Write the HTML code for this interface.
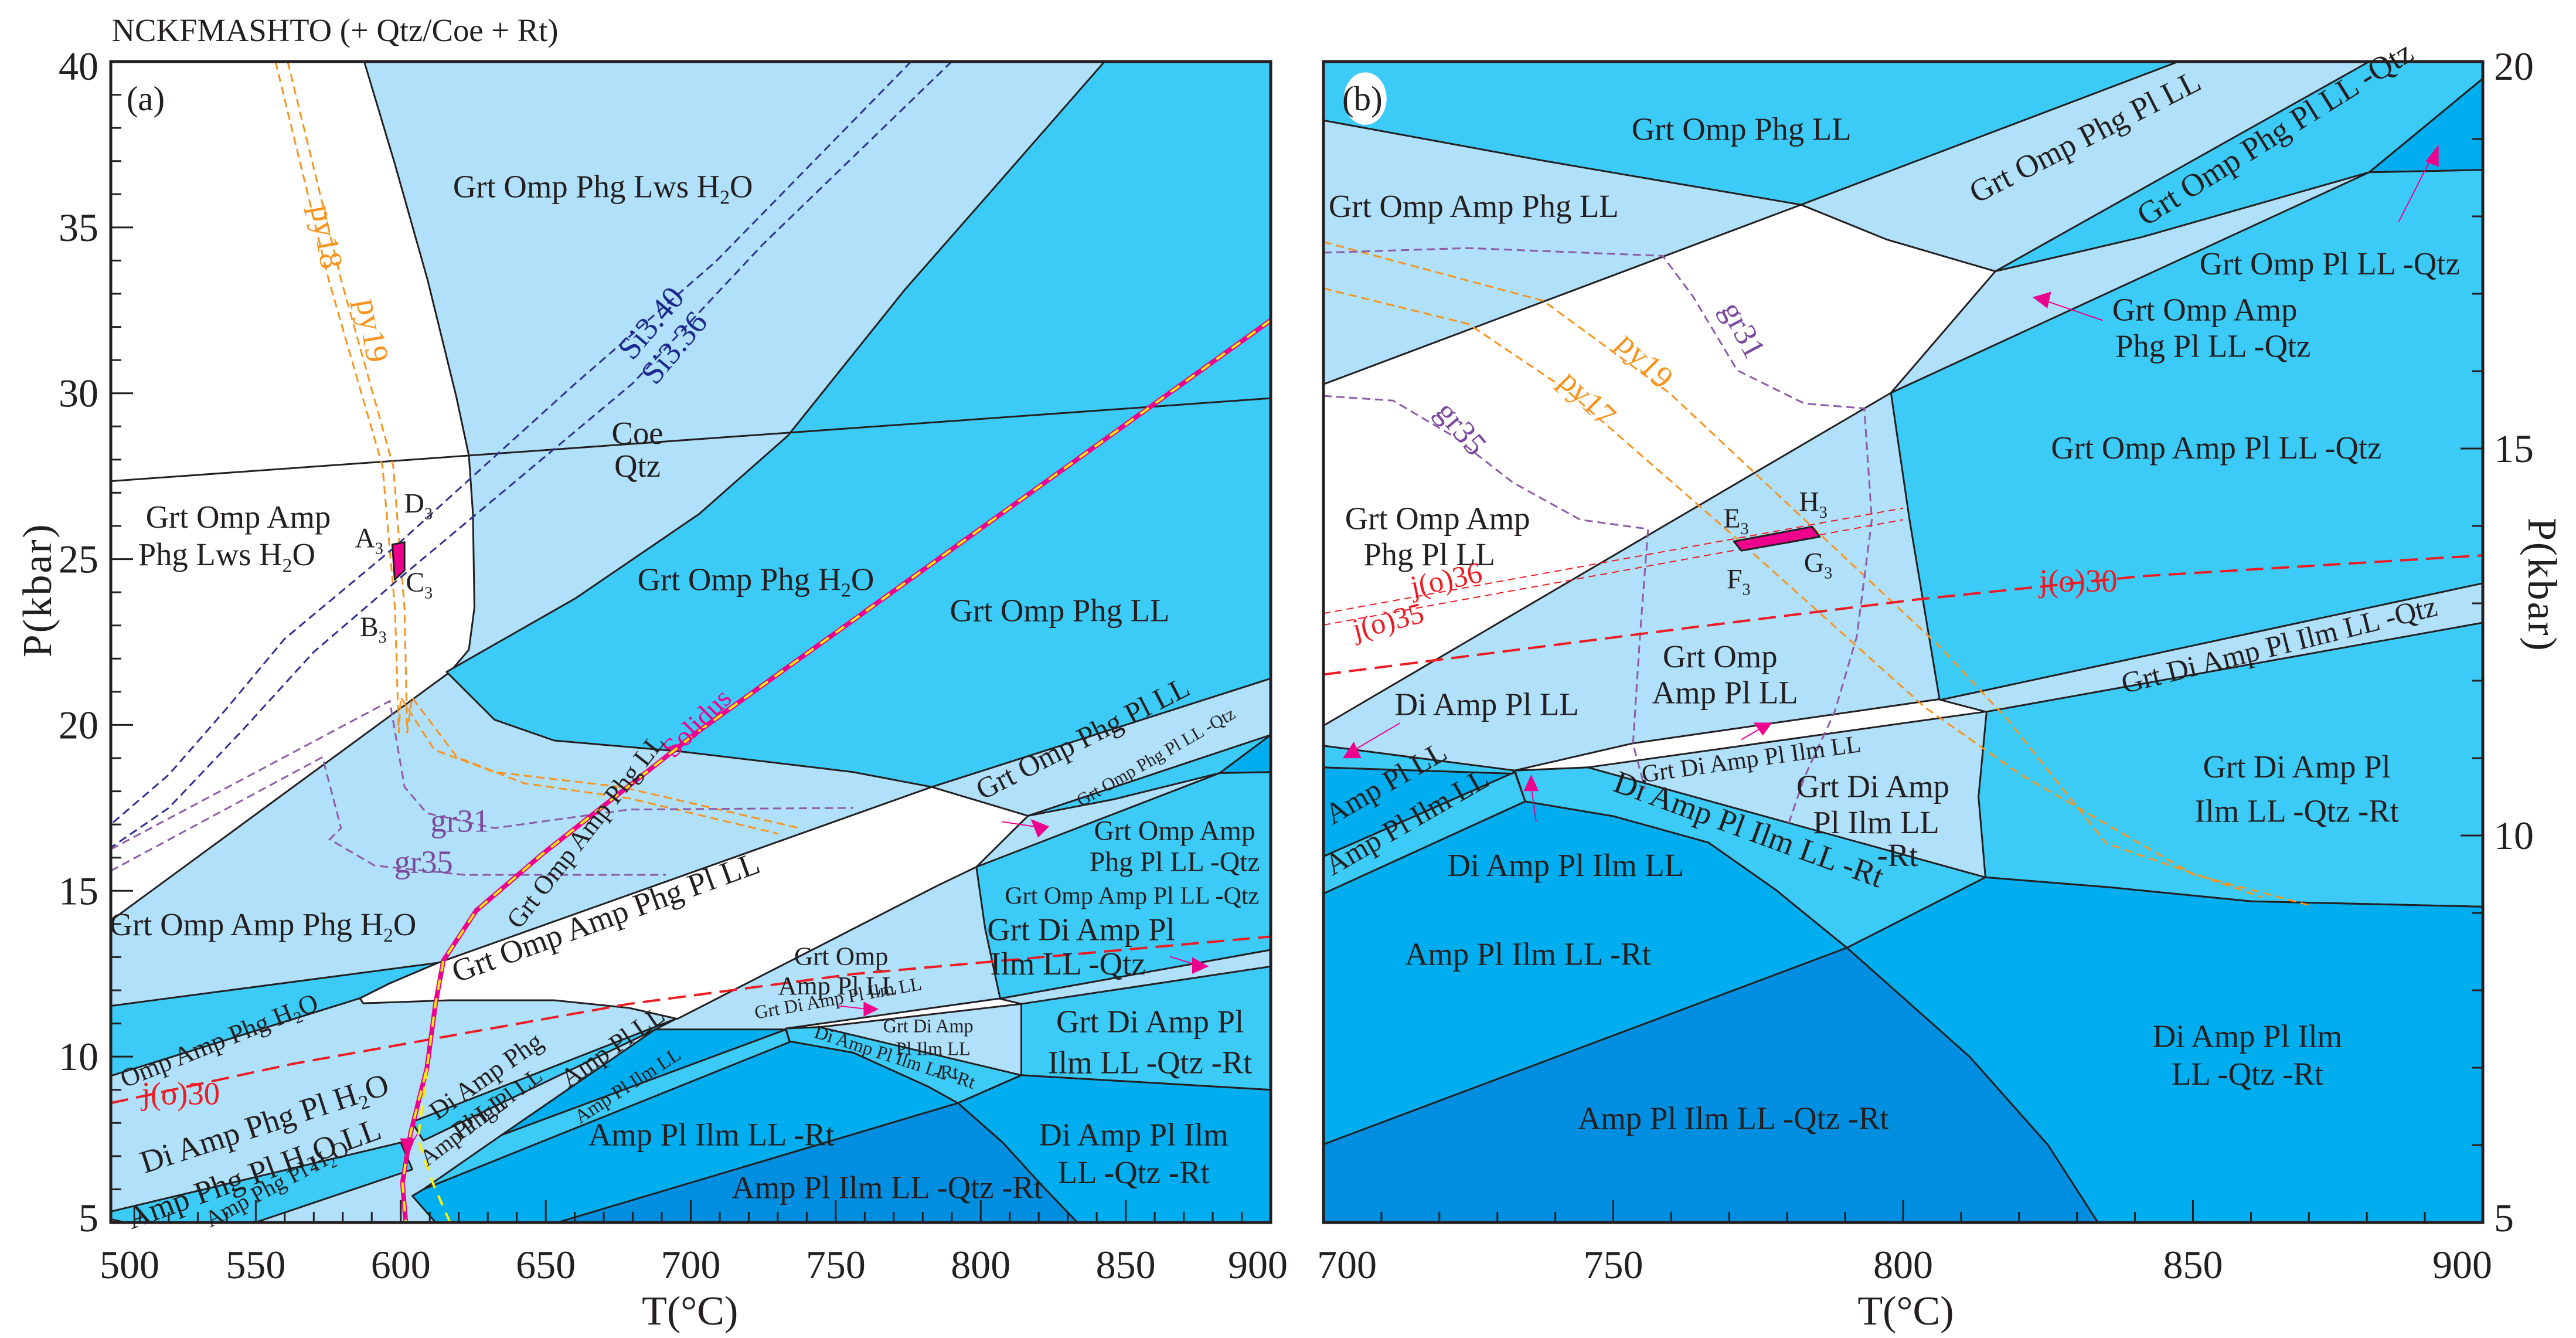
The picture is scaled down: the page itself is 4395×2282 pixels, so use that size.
<!DOCTYPE html>
<html><head><meta charset="utf-8"><title>Phase diagram</title>
<style>
html,body{margin:0;padding:0;background:#fff;}
svg{display:block;}
text{font-family:"Liberation Serif",serif;fill:#231f20;}
</style></head>
<body>
<svg id="chart" xmlns="http://www.w3.org/2000/svg" width="4395" height="2282" viewBox="0 0 4395 2282">
<defs>
<clipPath id="clipA"><rect x="189" y="105" width="1979" height="1980"/></clipPath>
<clipPath id="clipB"><rect x="2258" y="105" width="1978" height="1980"/></clipPath>
</defs>
<g id="panelA" clip-path="url(#clipA)"></g>
<g id="panelB" clip-path="url(#clipB)"></g>
<g id="axes"></g>

<g transform="scale(2.803)" font-size="19.5">
<text x="68" y="25" font-size="19.5">NCKFMASHTO (+ Qtz/Coe + Rt)</text>
<text x="77" y="67" font-size="21">(a)</text>
<ellipse cx="831" cy="60" rx="13" ry="16" fill="#fff"/>
<text x="817" y="67" font-size="21">(b)</text>

<text x="420" y="806" font-size="25" text-anchor="middle">T(°C)</text>
<text x="1160" y="806" font-size="25" text-anchor="middle">T(°C)</text>
<text transform="translate(31,400) rotate(-90)" font-size="25" letter-spacing="1">P(kbar)</text>
<text transform="translate(1539,315) rotate(90)" font-size="25" letter-spacing="1">P(kbar)</text>

<!-- panel a field labels -->
<text x="367" y="120" text-anchor="middle">Grt Omp Phg Lws H<tspan font-size="12" dy="4">2</tspan><tspan dy="-4">O</tspan></text>
<text transform="translate(385,220) rotate(-50)" style="fill:#1b2a8c">Si3.40</text>
<text transform="translate(399,235) rotate(-50)" style="fill:#1b2a8c">Si3.36</text>
<text transform="translate(189,126) rotate(80)" style="fill:#f7941d">py18</text>
<text transform="translate(217,183) rotate(80)" style="fill:#f7941d">py19</text>
<text x="388" y="270" text-anchor="middle">Coe</text>
<text x="388" y="290" text-anchor="middle">Qtz</text>
<text x="145" y="321" text-anchor="middle">Grt Omp Amp</text>
<text x="138" y="344" text-anchor="middle">Phg Lws H<tspan font-size="12" dy="4">2</tspan><tspan dy="-4">O</tspan></text>
<text x="216" y="333" font-size="17">A<tspan font-size="10" dy="4">3</tspan></text>
<text x="246" y="312" font-size="17">D<tspan font-size="10" dy="4">3</tspan></text>
<text x="247" y="360" font-size="17">C<tspan font-size="10" dy="4">3</tspan></text>
<text x="219" y="387" font-size="17">B<tspan font-size="10" dy="4">3</tspan></text>
<text x="460" y="359" text-anchor="middle">Grt Omp Phg H<tspan font-size="12" dy="4">2</tspan><tspan dy="-4">O</tspan></text>
<text x="645" y="378" text-anchor="middle">Grt Omp Phg LL</text>
<text transform="translate(410,462) rotate(-45)" style="fill:#ec008c" font-size="17">Solidus</text>
<text transform="translate(316,566) rotate(-52)" font-size="16">Grt Omp Amp Phg LL</text>
<text transform="translate(598,487) rotate(-27)" font-size="18">Grt Omp Phg Pl LL</text>
<text transform="translate(658,491) rotate(-30)" font-size="11">Grt Omp Phg Pl LL -Qtz</text>
<text x="715" y="511" font-size="17" text-anchor="middle">Grt Omp Amp</text>
<text x="715" y="530" font-size="17" text-anchor="middle">Phg Pl LL -Qtz</text>
<text x="689" y="550" font-size="15" text-anchor="middle">Grt Omp Amp Pl LL -Qtz</text>
<text x="658" y="572" text-anchor="middle">Grt Di Amp Pl</text>
<text x="650" y="593" text-anchor="middle">Ilm LL -Qtz</text>
<text x="160" y="569" text-anchor="middle">Grt Omp Amp Phg H<tspan font-size="12" dy="4">2</tspan><tspan dy="-4">O</tspan></text>
<text x="262" y="506" style="fill:#7b4a9e">gr31</text>
<text x="240" y="531" style="fill:#7b4a9e">gr35</text>
<text transform="translate(278,598) rotate(-20)">Grt Omp Amp Phg Pl LL</text>
<text transform="translate(76,662) rotate(-22)" font-size="16">Omp Amp Phg H<tspan font-size="10" dy="3">2</tspan><tspan dy="-3">O</tspan></text>
<text x="110" y="672" text-anchor="middle" style="fill:#ed1c24">j(o)30</text>
<text transform="translate(88,714) rotate(-18)">Di Amp Phg Pl H<tspan font-size="12" dy="4">2</tspan><tspan dy="-4">O</tspan></text>
<text transform="translate(80,748) rotate(-20)">Amp Phg Pl H<tspan font-size="12" dy="4">2</tspan><tspan dy="-4">O LL</tspan></text>
<text transform="translate(128,747) rotate(-28)" font-size="14">Amp Phg Pl H<tspan font-size="9" dy="3">2</tspan><tspan dy="-3">O</tspan></text>
<text transform="translate(266,682) rotate(-35)" font-size="16">Di Amp Phg</text>
<text transform="translate(280,694) rotate(-35)" font-size="16">Pl LL</text>
<text transform="translate(260,710) rotate(-37)" font-size="14">Amp Phg Pl LL</text>
<text transform="translate(346,662) rotate(-35)" font-size="16">Amp Pl LL</text>
<text transform="translate(353,684) rotate(-33)" font-size="12">Amp Pl Ilm LL</text>
<text x="512" y="587" font-size="16" text-anchor="middle">Grt Omp</text>
<text x="510" y="605" font-size="16" text-anchor="middle">Amp Pl LL</text>
<text transform="translate(460,620) rotate(-10)" font-size="11.5">Grt Di Amp Pl Ilm LL</text>
<text x="565" y="628" font-size="11.5" text-anchor="middle">Grt Di Amp</text>
<text x="568" y="642" font-size="11.5" text-anchor="middle">Pl Ilm LL</text>
<text x="576" y="656" font-size="11.5" text-anchor="middle">-Rt</text>
<text transform="translate(495,631) rotate(18)" font-size="11.5">Di Amp Pl Ilm LL -Rt</text>
<text x="700" y="628" text-anchor="middle">Grt Di Amp Pl</text>
<text x="700" y="653" text-anchor="middle">Ilm LL -Qtz -Rt</text>
<text x="433" y="697" text-anchor="middle">Amp Pl Ilm LL -Rt</text>
<text x="690" y="697" text-anchor="middle">Di Amp Pl Ilm</text>
<text x="690" y="720" text-anchor="middle">LL -Qtz -Rt</text>
<text x="540" y="729" text-anchor="middle">Amp Pl Ilm LL -Qtz -Rt</text>

<!-- panel b field labels -->
<text x="1060" y="85" text-anchor="middle">Grt Omp Phg LL</text>
<text x="897" y="132" text-anchor="middle">Grt Omp Amp Phg LL</text>
<text transform="translate(1203,124) rotate(-27)">Grt Omp Phg Pl LL</text>
<text transform="translate(1306,138) rotate(-32)">Grt Omp Phg Pl LL -Qtz</text>
<text x="1418" y="167" text-anchor="middle">Grt Omp Pl LL -Qtz</text>
<text x="1342" y="195" text-anchor="middle">Grt Omp Amp</text>
<text x="1347" y="217" text-anchor="middle">Phg Pl LL -Qtz</text>
<text transform="translate(1047,188) rotate(62)" style="fill:#7b4a9e">gr31</text>
<text transform="translate(983,210) rotate(45)" style="fill:#f7941d">py19</text>
<text transform="translate(948,233) rotate(45)" style="fill:#f7941d">py17</text>
<text transform="translate(873,251) rotate(50)" style="fill:#7b4a9e">gr35</text>
<text x="1349" y="279" text-anchor="middle">Grt Omp Amp Pl LL -Qtz</text>
<text x="875" y="322" text-anchor="middle">Grt Omp Amp</text>
<text x="870" y="344" text-anchor="middle">Phg Pl LL</text>
<text x="1049" y="321" font-size="17">E<tspan font-size="10" dy="4">3</tspan></text>
<text x="1095" y="311" font-size="17">H<tspan font-size="10" dy="4">3</tspan></text>
<text x="1051" y="358" font-size="17">F<tspan font-size="10" dy="4">3</tspan></text>
<text x="1098" y="348" font-size="17">G<tspan font-size="10" dy="4">3</tspan></text>
<text transform="translate(860,363) rotate(-12)" style="fill:#ed1c24" font-size="18">j(o)36</text>
<text transform="translate(825,389) rotate(-14)" style="fill:#ed1c24" font-size="18">j(o)35</text>
<text x="1265" y="360" text-anchor="middle" style="fill:#ed1c24">j(o)30</text>
<text transform="translate(1293,422) rotate(-14)" font-size="18">Grt Di Amp Pl Ilm LL -Qtz</text>
<text x="1047" y="406" text-anchor="middle">Grt Omp</text>
<text x="1050" y="428" text-anchor="middle">Amp Pl LL</text>
<text x="905" y="435" text-anchor="middle">Di Amp Pl LL</text>
<text transform="translate(1000,476) rotate(-8)" font-size="15">Grt Di Amp Pl Ilm LL</text>
<text x="1140" y="485" text-anchor="middle">Grt Di Amp</text>
<text x="1142" y="507" text-anchor="middle">Pl Ilm LL</text>
<text x="1155" y="527" text-anchor="middle">-Rt</text>
<text x="1398" y="473" text-anchor="middle">Grt Di Amp Pl</text>
<text x="1398" y="500" text-anchor="middle">Ilm LL -Qtz -Rt</text>
<text transform="translate(811,502) rotate(-30)" font-size="18">Amp Pl LL</text>
<text transform="translate(811,533) rotate(-30)" font-size="18">Amp Pl Ilm LL</text>
<text x="953" y="533" text-anchor="middle">Di Amp Pl Ilm LL</text>
<text transform="translate(981,481) rotate(20)">Di Amp Pl Ilm LL -Rt</text>
<text x="930" y="587" text-anchor="middle">Amp Pl Ilm LL -Rt</text>
<text x="1368" y="637" text-anchor="middle">Di Amp Pl Ilm</text>
<text x="1368" y="660" text-anchor="middle">LL -Qtz -Rt</text>
<text x="1055" y="687" text-anchor="middle">Amp Pl Ilm LL -Qtz -Rt</text>

<!-- pink annotation arrows -->
<g stroke="#ec008c" stroke-width="0.7" fill="#ec008c">
<line x1="254" y1="690" x2="248" y2="700"/>
<polygon points="244,693 252,693 248,704"/>
<line x1="510" y1="612" x2="528" y2="614"/>
<polygon points="526,610 534,614 526,618"/>
<line x1="610" y1="500" x2="630" y2="503"/>
<polygon points="628,499 638,503 632,509"/>
<line x1="712" y1="582" x2="728" y2="587"/>
<polygon points="726,583 735,588 726,592"/>
<line x1="852" y1="440" x2="825" y2="456"/>
<polygon points="818,461 824,452 828,461"/>
<line x1="935" y1="500" x2="932" y2="478"/>
<polygon points="928,481 932,472 936,481"/>
<line x1="1060" y1="450" x2="1072" y2="443"/>
<polygon points="1068,440 1078,440 1073,447"/>
<line x1="1280" y1="195" x2="1245" y2="183"/>
<polygon points="1238,181 1248,178 1246,187"/>
<line x1="1460" y1="135" x2="1480" y2="96"/>
<polygon points="1477,98 1484,89 1484,101"/>
</g>
</g>
</svg>

<script>
// ---------- data (T in °C, P in kbar) ----------
const aTicksT = [500,550,600,650,700,750,800,850,900];
const aTicksP = [5,10,15,20,25,30,35,40];
const bTicksT = [700,750,800,850,900];
const bTicksP = [5,10,15,20];

// Panel (a) fields
const aWhiteUpperT = [500,587.4,597.9,609.3,619.2,623.5,624.9,625.4,623.5,617,500];
const aWhiteUpperP = [40,40,36.93,33.4,29.88,28.12,26.36,23.54,22.27,21.6,14.1];
const aMidBigT = [842.7,900,900,783.1,756,696.7,652.9,632.3,615.8,632,660.3,702.9,733.5,773.8,802.1];
const aMidBigP = [40,40,21.4,18.13,18.58,19.2,19.53,20.16,21.6,22.41,23.82,26.36,28.72,33.12,35.94];
const aQtzWedgeT = [816.3,900,900,882.4,846];
const aQtzWedgeP = [17.26,19.7,18.58,18.55,17.76];
const aBlueTriT = [882.4,900,900];
const aBlueTriP = [18.55,19.7,18.58];
const aMidRightT = [798.5,882.4,900,900,806.7,801.5];
const aMidRightP = [15.72,18.55,18.58,13.22,11.75,13.87];
const aMidRtT = [814,900,900,814];
const aMidRtP = [11.59,12.72,9.0,9.44];
const aBlueRightT = [814,900,900,833.3,820.5,807.6,792.1];
const aBlueRightP = [9.44,9.0,5,5,6.17,7.41,8.6];
const aWhiteWedgeT = [732.8,806.3,814,744.4];
const aWhiteWedgeP = [10.85,11.75,11.59,10.89];
const aDiRtT = [732.8,744.4,814,792.1,781.8,756,734.1];
const aDiRtP = [10.85,10.89,9.44,8.6,9.1,10.12,10.46];
const aBlueRtT = [607.8,734.1,756,781.8,792.1,833.3,612,604];
const aBlueRtP = [6.0,10.46,10.12,9.1,8.6,5,5,5.8];
const aDarkT = [654,792.1,807.6,820.5,833.3];
const aDarkP = [5,8.6,7.41,6.17,5];
const aAmpPlIlmT = [634.8,732.8,734.1,607.8];
const aAmpPlIlmP = [7.64,10.82,10.44,6.0];
const aAmpPlLLT = [687.7,732.8,634.8];
const aAmpPlLLP = [10.82,10.82,7.64];
const aAmpPhgPlLLT = [603.9,695.4,687.7,607.8];
const aAmpPhgPlLLP = [8.03,11.16,10.82,7.47];
const aAmpPhgPlH2OT = [500,600,604,549.8,505,500];
const aAmpPhgPlH2OP = [5.33,7.41,6.6,5,5,5.1];
const aOmpAmpPhgT = [500,612.9,596.2,585.9,500];
const aOmpAmpPhgP = [11.53,12.83,12.21,11.76,9.42];
const aWhiteBandT = [612.9,783.1,816.3,798.5,785.2,695.4,678.7,652.9,616.8,587.1,585.9,596.2];
const aWhiteBandP = [12.83,18.13,17.26,15.72,15.16,11.14,11.47,11.7,11.7,11.61,11.76,12.21];

// Panel (a) lines
const aCoeQtzT = [500,900];
const aCoeQtzP = [27.35,29.85];
const aSolidusT = [900,702.5,648.7,626,614.7,612,609,603.4,600.6,601.7];
const aSolidusP = [32.2,19.8,16.1,14.4,12.9,11.6,9.65,7.7,6.2,5];
const aYellowTailT = [609,606,611,617];
const aYellowTailP = [9.65,7.5,6.2,5];
const aPy18T = [556.8,575.2,593.7,598,599.3,600,611.6,632.3,676,738];
const aPy18P = [40,33.4,27.8,23.5,19.76,20.83,19.25,18.58,18.13,16.88];
const aPy19T = [561,579.5,597.4,601.3,602.2,603.9,619.4,642.6,678.7,730.2];
const aPy19P = [40,33.4,27.8,23.5,19.76,20.83,19.03,18.24,17.79,16.72];
const aSi340T = [776,708.5,660.3,598,560,540,520,500];
const aSi340P = [40,33.96,30.3,25.37,22.6,20.5,18.5,17.0];
const aSi336T = [790,725,680,602,570,545,520,500];
const aSi336P = [40,34.5,30.3,24.6,22.2,19.8,17.5,16.3];
const aGr31T = [500,596.2,601.3,609,632.3,678.7,756];
const aGr31P = [16.25,20.72,18.13,17.34,16.89,17.45,17.5];
const aGr35T = [500,573,579.4,575.5,591,621.9,691.5];
const aGr35P = [15.6,19.03,16.89,16.55,15.76,15.48,15.48];
const aJo30T = [500,562.6,678.7,756,900];
const aJo30P = [8.6,9.78,11.59,12.49,13.62];
const aBoxT = [597.1,601.3,601.3,597.9];
const aBoxP = [25.44,25.51,24.66,24.38];

// Panel (b) fields
const bMidTopT = [700,847.5,782.4,737.9,700];
const bMidTopP = [20,20,18.15,18.72,19.24];
const bWhiteT = [700,782.4,797.2,815.9,797.9,700];
const bWhiteP = [15.83,18.15,17.7,17.29,15.72,11.42];
const bQtzBandT = [815.9,880.4,900,900,880.4,841.1];
const bQtzBandP = [17.29,20,20,19.78,18.57,17.73];
const bBlueTriT = [880.4,900,900];
const bBlueTriP = [18.57,19.78,18.6];
const bMidRightT = [797.9,880.4,900,900,806.3,801.1];
const bMidRightP = [15.72,18.57,18.6,13.26,11.75,14.08];
const bMidRtT = [814.4,900,900,860,835.7,814.2,813];
const bMidRtP = [11.6,12.75,9.08,9.15,9.33,9.46,10.5];
const bWhiteWedgeT = [733,753.3,806.1,814.2,745.6];
const bWhiteWedgeP = [10.84,11.19,11.76,11.6,10.88];
const bMidSliverT = [700,733,732.5,700];
const bMidSliverP = [11.16,10.84,10.8,10.88];
const bAmpPlLLT = [700,732.5,733,700];
const bAmpPlLLP = [10.88,10.8,10.82,9.73];
const bAmpPlIlmT = [700,733,734.8,700];
const bAmpPlIlmP = [9.73,10.82,10.44,9.25];
const bDiRtT = [733,745.6,814.2,790.3,778,766.4,750,734.8];
const bDiRtP = [10.84,10.88,9.46,8.55,9.3,9.91,10.25,10.44];
const bBlueRtT = [700,734.8,750,766.4,778,790.3,811.5,833.6,700];
const bBlueRtP = [9.25,10.44,10.25,9.91,9.3,8.55,7.14,5,5];
const bDarkT = [700,790.3,811.5,825,833.6,700];
const bDarkP = [6.01,8.55,7.14,6,5,5];
const bBlueRightT = [790.3,814.2,835.7,860,900,900,833.6,825,811.5];
const bBlueRightP = [8.55,9.46,9.33,9.15,9.08,5,5,6,7.14];

// Panel (b) lines
const bPy19T = [700,737.9,759.8,783,806.2,818,835,862];
const bPy19P = [17.67,16.91,15.71,14.08,12.45,11.5,9.9,9.2];
const bPy17T = [700,725,741.7,771.4,803.7,820,850,870];
const bPy17P = [17.07,16.61,15.77,13.83,11.66,10.8,9.5,9.1];
const bGr31T = [700,725,758.5,763.7,771.4,783,793.3,794.6,792,788.2,783,780];
const bGr31P = [17.53,17.59,17.49,16.97,16.01,15.58,15.52,14.08,12.57,11.6,10.76,10.1];
const bGr35T = [700,712,722.4,732.7,744.3,756,754.6,753.4,755.5];
const bGr35P = [15.68,15.62,15.16,14.56,14.08,13.96,12.57,11.18,10.6];
const bJo30T = [700,763.7,802.4,841,900];
const bJo30P = [12.08,12.69,13.05,13.35,13.62];
const bJo36T = [700,800];
const bJo36P = [12.87,14.23];
const bJo35T = [700,800];
const bJo35P = [12.72,14.08];
const bBoxT = [770.8,784.3,785.6,772.1];
const bBoxP = [13.8,13.99,13.86,13.68];

// ---------- axis functions ----------
const A = {x0:189, x1:2168, y0:105, y1:2085, t0:500, t1:900, p0:5, p1:40};
const B = {x0:2258, x1:4236, y0:105, y1:2085, t0:700, t1:900, p0:5, p1:20};
function sx(ax,t){return ax.x0+(t-ax.t0)/(ax.t1-ax.t0)*(ax.x1-ax.x0);}
function sy(ax,p){return ax.y1-(p-ax.p0)/(ax.p1-ax.p0)*(ax.y1-ax.y0);}
function pts(ax,T,P){return T.map((t,i)=>sx(ax,t).toFixed(1)+','+sy(ax,P[i]).toFixed(1)).join(' ');}
const NS='http://www.w3.org/2000/svg';
const LIGHT='#b0e0fa', MID='#3ccbf7', BLUE='#00aeef', DARK='#008fe0';

function field(g,ax,T,P,fill,name){
  const el=document.createElementNS(NS,'polygon');
  el.setAttribute('points',pts(ax,T,P));
  el.setAttribute('fill',fill);
  el.setAttribute('stroke','#231f20');
  el.setAttribute('stroke-width','3');
  el.setAttribute('stroke-linejoin','round');
  
  
  g.appendChild(el);
  return el;
}
function line(g,ax,T,P,color,w,dash,name){
  const el=document.createElementNS(NS,'polyline');
  el.setAttribute('points',pts(ax,T,P));
  el.setAttribute('fill','none');
  el.setAttribute('stroke',color);
  el.setAttribute('stroke-width',w);
  if(dash) el.setAttribute('stroke-dasharray',dash);
  
  
  g.appendChild(el);
  return el;
}
function bg(g,ax,name){
  const r=document.createElementNS(NS,'rect');
  r.setAttribute('x',ax.x0);r.setAttribute('y',ax.y0);
  r.setAttribute('width',ax.x1-ax.x0);r.setAttribute('height',ax.y1-ax.y0);
  r.setAttribute('fill',LIGHT);
  
  
  g.appendChild(r);
}

// ---------- panel a ----------
const ga=document.getElementById('panelA');
bg(ga,A,'panel-a-background');
field(ga,A,aWhiteUpperT,aWhiteUpperP,'#ffffff','field-a-grt-omp-amp-phg-lws');
field(ga,A,aMidBigT,aMidBigP,MID,'field-a-grt-omp-phg');
field(ga,A,aQtzWedgeT,aQtzWedgeP,MID,'field-a-phg-pl-qtz-wedge');
field(ga,A,aBlueTriT,aBlueTriP,BLUE,'field-a-blue-triangle');
field(ga,A,aMidRightT,aMidRightP,MID,'field-a-grt-omp-amp-pl-qtz');
field(ga,A,aMidRtT,aMidRtP,MID,'field-a-grt-di-qtz-rt');
field(ga,A,aBlueRightT,aBlueRightP,BLUE,'field-a-di-amp-pl-ilm-qtz-rt');
field(ga,A,aWhiteWedgeT,aWhiteWedgeP,'#ffffff','field-a-grt-di-amp-pl-ilm-ll');
field(ga,A,aDiRtT,aDiRtP,MID,'field-a-di-amp-pl-ilm-rt');
field(ga,A,aBlueRtT,aBlueRtP,BLUE,'field-a-amp-pl-ilm-rt');
field(ga,A,aDarkT,aDarkP,DARK,'field-a-amp-pl-ilm-qtz-rt');
field(ga,A,aAmpPlIlmT,aAmpPlIlmP,MID,'field-a-amp-pl-ilm-ll');
field(ga,A,aAmpPlLLT,aAmpPlLLP,BLUE,'field-a-amp-pl-ll');
field(ga,A,aAmpPhgPlLLT,aAmpPhgPlLLP,MID,'field-a-amp-phg-pl-ll');
field(ga,A,aAmpPhgPlH2OT,aAmpPhgPlH2OP,MID,'field-a-amp-phg-pl-h2o');
field(ga,A,aOmpAmpPhgT,aOmpAmpPhgP,MID,'field-a-omp-amp-phg-h2o');
field(ga,A,aWhiteBandT,aWhiteBandP,'#ffffff','field-a-grt-omp-amp-phg-pl-ll');
line(ga,A,aCoeQtzT,aCoeQtzP,'#231f20',3,null,'coe-qtz-line');
line(ga,A,aPy18T,aPy18P,'#f7941d',3,'14,8','py18-isopleth');
line(ga,A,aPy19T,aPy19P,'#f7941d',3,'14,8','py19-isopleth');
line(ga,A,aSi340T,aSi340P,'#2e3192',3,'14,8','si340-isopleth');
line(ga,A,aSi336T,aSi336P,'#2e3192',3,'14,8','si336-isopleth');
line(ga,A,aGr31T,aGr31P,'#8e5ba8',3,'14,8','gr31-isopleth-a');
line(ga,A,aGr35T,aGr35P,'#8e5ba8',3,'14,8','gr35-isopleth-a');
line(ga,A,aJo30T,aJo30P,'#ed1c24',4,'30,14','jo30-isopleth-a');
line(ga,A,aSolidusT,aSolidusP,'#ec008c',8,null,'solidus-line');
line(ga,A,aSolidusT,aSolidusP,'#fff200',4,'18,14','solidus-yellow-dash');
line(ga,A,aYellowTailT,aYellowTailP,'#fff200',4,'18,14','solidus-yellow-tail');
field(ga,A,aBoxT,aBoxP,'#ec008c','pt-path-box-a');

// ---------- panel b ----------
const gb=document.getElementById('panelB');
bg(gb,B,'panel-b-background');
field(gb,B,bMidTopT,bMidTopP,MID,'field-b-grt-omp-phg-ll');
field(gb,B,bWhiteT,bWhiteP,'#ffffff','field-b-grt-omp-amp-phg-pl-ll');
field(gb,B,bQtzBandT,bQtzBandP,MID,'field-b-grt-omp-phg-pl-qtz');
field(gb,B,bBlueTriT,bBlueTriP,BLUE,'field-b-blue-triangle');
field(gb,B,bMidRightT,bMidRightP,MID,'field-b-grt-omp-amp-pl-qtz');
field(gb,B,bMidRtT,bMidRtP,MID,'field-b-grt-di-qtz-rt');
field(gb,B,bBlueRtT,bBlueRtP,BLUE,'field-b-amp-pl-ilm-rt');
field(gb,B,bDarkT,bDarkP,DARK,'field-b-amp-pl-ilm-qtz-rt');
field(gb,B,bBlueRightT,bBlueRightP,BLUE,'field-b-di-amp-pl-ilm-qtz-rt');
field(gb,B,bDiRtT,bDiRtP,MID,'field-b-di-amp-pl-ilm-rt');
field(gb,B,bAmpPlIlmT,bAmpPlIlmP,MID,'field-b-amp-pl-ilm-ll');
field(gb,B,bAmpPlLLT,bAmpPlLLP,BLUE,'field-b-amp-pl-ll');
field(gb,B,bMidSliverT,bMidSliverP,MID,'field-b-amp-pl-ll-sliver');
field(gb,B,bWhiteWedgeT,bWhiteWedgeP,'#ffffff','field-b-grt-di-amp-pl-ilm-ll');
line(gb,B,bPy19T,bPy19P,'#f7941d',3,'14,8','py19-isopleth-b');
line(gb,B,bPy17T,bPy17P,'#f7941d',3,'14,8','py17-isopleth-b');
line(gb,B,bGr31T,bGr31P,'#8e5ba8',3,'14,8','gr31-isopleth-b');
line(gb,B,bGr35T,bGr35P,'#8e5ba8',3,'14,8','gr35-isopleth-b');
line(gb,B,bJo30T,bJo30P,'#ed1c24',4,'30,14','jo30-isopleth-b');
line(gb,B,bJo36T,bJo36P,'#ed1c24',2,'12,8','jo36-isopleth');
line(gb,B,bJo35T,bJo35P,'#ed1c24',2,'12,8','jo35-isopleth');
field(gb,B,bBoxT,bBoxP,'#ec008c','pt-path-box-b');

// ---------- axes ----------
const gx=document.getElementById('axes');
function frame(ax,name){
  const r=document.createElementNS(NS,'rect');
  r.setAttribute('x',ax.x0);r.setAttribute('y',ax.y0);
  r.setAttribute('width',ax.x1-ax.x0);r.setAttribute('height',ax.y1-ax.y0);
  r.setAttribute('fill','none');r.setAttribute('stroke','#231f20');r.setAttribute('stroke-width','5');
  
  
  gx.appendChild(r);
}
function seg(x1,y1,x2,y2,name){
  const l=document.createElementNS(NS,'line');
  l.setAttribute('x1',x1);l.setAttribute('y1',y1);l.setAttribute('x2',x2);l.setAttribute('y2',y2);
  l.setAttribute('stroke','#231f20');l.setAttribute('stroke-width','3');
  
  
  gx.appendChild(l);
}
function txt(x,y,s,anchor,name){
  const t=document.createElementNS(NS,'text');
  t.setAttribute('x',x);t.setAttribute('y',y);t.setAttribute('font-size','68');
  t.setAttribute('text-anchor',anchor);
  t.textContent=s;
  
  
  gx.appendChild(t);
}
frame(A,'panel-a-frame');
frame(B,'panel-b-frame');
for(let t=A.t0;t<=A.t1;t+=10){const x=sx(A,t);seg(x,A.y1,x,A.y1-(t%50===0?38:18),'x-tick-a');}
for(let p=A.p0;p<=A.p1;p+=1){const y=sy(A,p);seg(A.x0,y,A.x0+(p%5===0?38:18),y,'y-tick-a');}
for(let t=B.t0;t<=B.t1;t+=10){const x=sx(B,t);seg(x,B.y1,x,B.y1-(t%50===0?38:18),'x-tick-b');}
for(let p=B.p0;p<=B.p1;p+=1){const y=sy(B,p);seg(B.x1,y,B.x1-(p%5===0?38:18),y,'y-tick-b');}
aTicksT.forEach((t,i)=>{let x=sx(A,t);if(i===0)x+=32;if(i===aTicksT.length-1)x-=22;txt(x,2180,String(t),'middle','x-tick-label-a');});
aTicksP.forEach(p=>{let y=sy(A,p)+23;if(p===A.p1)y+=8;if(p===A.p0)y-=8;txt(168,y,String(p),'end','y-tick-label-a');});
bTicksT.forEach((t,i)=>{let x=sx(B,t);if(i===0)x+=40;if(i===bTicksT.length-1)x-=35;txt(x,2180,String(t),'middle','x-tick-label-b');});
bTicksP.forEach(p=>{let y=sy(B,p)+23;if(p===B.p1)y+=8;if(p===B.p0)y-=8;txt(4255,y,String(p),'start','y-tick-label-b');});
</script>
</body></html>
